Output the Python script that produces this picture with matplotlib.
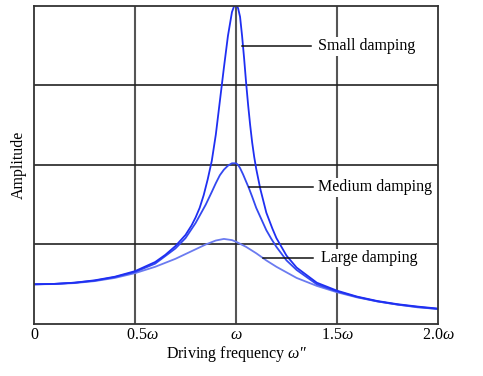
import numpy as np
import matplotlib
matplotlib.use("Agg")
import matplotlib.pyplot as plt
from matplotlib.transforms import ScaledTranslation

plt.rcParams['font.family'] = ['Liberation Serif', 'DejaVu Serif']
plt.rcParams['mathtext.fontset'] = 'custom'
plt.rcParams['mathtext.rm'] = 'Liberation Serif'
plt.rcParams['mathtext.it'] = 'Liberation Serif:italic'

# === values (x in units of omega, amplitude in grid units) ===
x_small = [0, 0.1, 0.2, 0.3, 0.4, 0.5, 0.6, 0.65, 0.7, 0.75, 0.78, 0.8, 0.82, 0.84, 0.86,
           0.88, 0.9, 0.92, 0.94, 0.96, 0.98, 0.99, 1.0, 1.01, 1.02, 1.03, 1.04, 1.05,
           1.06, 1.07, 1.08, 1.09, 1.1, 1.12, 1.15, 1.18, 1.2, 1.25, 1.3, 1.4, 1.5,
           1.6, 1.7, 1.8, 1.9, 2.0]
y_small = [0.50, 0.505, 0.52, 0.55, 0.595, 0.665, 0.78, 0.87, 0.98, 1.12, 1.24, 1.34, 1.46, 1.62, 1.82,
           2.05, 2.38, 2.8, 3.22, 3.62, 3.92, 3.99, 4.0, 3.97, 3.86, 3.62, 3.34, 3.03,
           2.75, 2.5, 2.28, 2.1, 1.95, 1.7, 1.4, 1.2, 1.08, 0.86, 0.71, 0.52, 0.42,
           0.345, 0.29, 0.25, 0.22, 0.195]

x_medium = [0, 0.1, 0.2, 0.3, 0.4, 0.5, 0.6, 0.7, 0.75, 0.8, 0.85, 0.88, 0.9, 0.92, 0.94,
            0.96, 0.98, 1.0, 1.01, 1.02, 1.035, 1.05, 1.065, 1.08, 1.1, 1.125, 1.15,
            1.175, 1.2, 1.25, 1.3, 1.4, 1.5, 1.6, 1.7, 1.8, 1.9, 2.0]
y_medium = [0.50, 0.505, 0.52, 0.545, 0.59, 0.655, 0.76, 0.95, 1.08, 1.27, 1.5, 1.66, 1.77, 1.87, 1.94,
            1.99, 2.02, 2.02, 2.0, 1.96, 1.88, 1.79, 1.7, 1.6, 1.46, 1.32, 1.18,
            1.07, 0.97, 0.8, 0.68, 0.5, 0.41, 0.34, 0.285, 0.245, 0.215, 0.19]

x_large = [0, 0.1, 0.2, 0.3, 0.4, 0.5, 0.6, 0.7, 0.75, 0.8, 0.85, 0.9, 0.94, 0.98,
           1.0, 1.05, 1.1, 1.15, 1.2, 1.3, 1.4, 1.5, 1.6, 1.7, 1.8, 1.9, 2.0]
y_large = [0.50, 0.503, 0.515, 0.54, 0.58, 0.64, 0.72, 0.82, 0.88, 0.94, 1.0, 1.05, 1.07, 1.055,
           1.035, 0.97, 0.89, 0.8, 0.72, 0.58, 0.48, 0.40, 0.335, 0.285, 0.245, 0.21, 0.19]

labels = ["Small damping", "Medium damping", "Large damping"]
# leader line start x, end x, height
lead_x0 = [1.03, 1.065, 1.135]
lead_x1 = [1.371, 1.381, 1.381]
lead_y = [3.49, 1.72, 0.83]
text_x = [1.405, 1.405, 1.42]

xticks = [0, 0.5, 1.0, 1.5, 2.0]
xticklabels = ["0", r"0.5$\omega$", r"$\omega$", r"1.5$\omega$", r"2.0$\omega$"]

fig = plt.figure(figsize=(4.83, 3.76), dpi=100)
ax = fig.add_axes([0.0704, 0.138, 0.8365, 0.847])

for xv in [0.5, 1.0, 1.5]:
    ax.axvline(xv, color='#555555', lw=1.5, zorder=1)
for yv in [1, 2, 3]:
    ax.axhline(yv, color='#222222', lw=1.2, zorder=1)

ax.plot(x_large, y_large, color='#6b7bf0', lw=1.3, zorder=3)
ax.plot(x_medium, y_medium, color='#3348f0', lw=1.3, zorder=3)
ax.plot(x_small, y_small, color='#1f2ff2', lw=1.3, zorder=3)

for i, lab in enumerate(labels):
    ax.plot([lead_x0[i], lead_x1[i]], [lead_y[i], lead_y[i]], color='#111111', lw=1.1, zorder=4)
    ax.text(text_x[i], lead_y[i], lab, fontsize=11.5, va='center', ha='left', zorder=2,
            bbox=dict(facecolor='white', edgecolor='none', pad=1.0))

ax.set_xlim(0, 2.0)
ax.set_ylim(0, 4.0)
ax.set_xticks(xticks)
ax.set_xticklabels(xticklabels, fontsize=11.5)
ax.set_yticks([])
ax.tick_params(axis='x', length=0, pad=2)
# the 0.5ω label sits a little right of its gridline in the original
lbl = ax.get_xticklabels()[1]
lbl.set_transform(lbl.get_transform() + ScaledTranslation(0.07, 0, fig.dpi_scale_trans))
for s in ax.spines.values():
    s.set_color('#333333')
    s.set_linewidth(1.3)
    s.set_zorder(6)

ax.set_xlabel(r"Driving frequency $\omega$″", fontsize=11.5, labelpad=1)
ax.set_ylabel("Amplitude", fontsize=11.5, labelpad=5)

fig.savefig("out.png", dpi=100)
